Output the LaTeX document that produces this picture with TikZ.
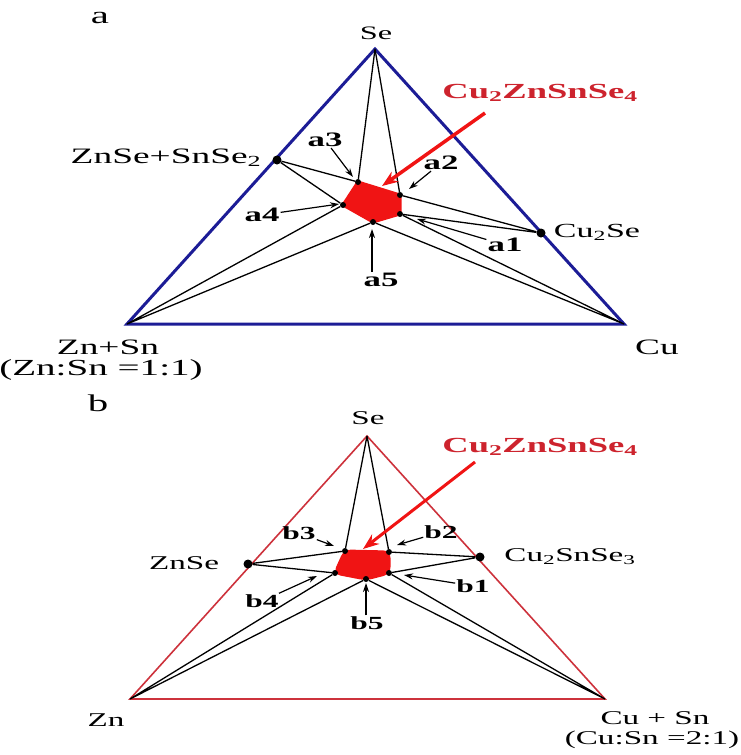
\documentclass[tikz,border=0pt]{standalone}
\usepackage{fontspec}
\setmainfont{Liberation Serif}[FakeStretch=1.7]
\definecolor{EdgeBlue}{RGB}{28,28,150}
\definecolor{EdgeRed}{RGB}{205,50,60}
\definecolor{PhaseRed}{RGB}{240,20,20}
\definecolor{LabelRed}{RGB}{205,35,45}
\usetikzlibrary{arrows.meta}
\tikzset{
    tie/.style={black,line width=1.3pt},
    bigdot/.style={circle,fill=black,inner sep=0pt,minimum size=9pt},
    smalldot/.style={circle,fill=black,inner sep=0pt,minimum size=6pt},
    lbl/.style={font=\fontsize{22}{25}\selectfont,inner sep=1pt},
    lblb/.style={font=\fontsize{19.5}{22}\selectfont,inner sep=1pt},
    tag/.style={font=\fontsize{20.5}{23}\selectfont\bfseries,inner sep=1pt},
    tagb/.style={font=\fontsize{18.5}{21}\selectfont\bfseries,inner sep=1pt},
    kest/.style={font=\fontsize{21.5}{24}\selectfont\bfseries,text=LabelRed,inner sep=1pt},
    ptr/.style={-{Stealth[length=9pt,width=6pt]},line width=1.2pt},
    redptr/.style={-{Stealth[length=16pt,width=12pt]},PhaseRed,line width=3.5pt},
    phase/.style={fill=PhaseRed,draw=PhaseRed,line width=3pt,line join=round}
}

\begin{document}
\begin{tikzpicture}[x=1pt,y=-1pt]
    \useasboundingbox (0,0) rectangle (741,755);

    % panel a
    \coordinate (SeA) at (375,49);
    \coordinate (ZnA) at (127,324);
    \coordinate (CuA) at (624,324);
    \draw[EdgeBlue,line width=3pt] (SeA) -- (ZnA) -- (CuA) -- cycle;
    \fill[phase] (400,195) -- (358,182) -- (343,205) -- (373,222) -- (400,214) -- cycle;
    \node[bigdot] (ZSA) at (277,160) {};
    \node[bigdot] (CSA) at (541,233) {};
    \node[smalldot] (pa1) at (400,214) {};
    \node[smalldot] (pa2) at (400,195) {};
    \node[smalldot] (pa3) at (358,182) {};
    \node[smalldot] (pa4) at (343,205) {};
    \node[smalldot] (pa5) at (373,222) {};
    \draw[tie] (SeA) -- (pa3) (SeA) -- (pa2);
    \draw[tie] (ZSA) -- (pa3) (ZSA) -- (pa4);
    \draw[tie] (CSA) -- (pa2) (CSA) -- (pa1);
    \draw[tie] (ZnA) -- (pa4) (ZnA) -- (pa5);
    \draw[tie] (CuA) -- (pa1) (CuA) -- (pa5);

    \node[lbl,font=\fontsize{24}{27}\selectfont] (capA) at (100,18) {a};
    \node[lbl,font=\fontsize{19}{22}\selectfont] (seAlab) at (376,33) {Se};
    \node[lbl] (zsAlab) at (166,158) {ZnSe+SnSe\textsubscript{2}};
    \node[lbl,font=\fontsize{20}{23}\selectfont] (csAlab) at (597,232) {Cu\textsubscript{2}Se};
    \node[lbl] (znAlab) at (108,347) {Zn+Sn};
    \node[lbl,font=\fontsize{23}{26}\selectfont] (ratioA) at (101,370) {(Zn:Sn =1:1)};
    \node[lbl] (cuAlab) at (657,347) {Cu};

    \node[tag] (a1lab) at (505,245) {a1};
    \node[tag] (a2lab) at (441,163) {a2};
    \node[tag] (a3lab) at (325,140) {a3};
    \node[tag] (a4lab) at (262,215) {a4};
    \node[tag] (a5lab) at (381,280) {a5};
    \coordinate (a1tip) at (417,219);
    \coordinate (a2tip) at (409,189);
    \coordinate (a3tip) at (353,177);
    \coordinate (a4tip) at (339,204);
    \coordinate (a5tip) at (372,229);
    \draw[ptr] (a1lab) -- (a1tip);
    \draw[ptr] (a2lab) -- (a2tip);
    \draw[ptr] (a3lab) -- (a3tip);
    \draw[ptr] (a4lab) -- (a4tip);
    \draw[ptr] (a5lab.north -| a5tip) -- (a5tip);

    \node[kest] (kestA) at (540,93) {Cu\textsubscript{2}ZnSnSe\textsubscript{4}};
    \coordinate (kestAfoot) at (485,113);
    \coordinate (kestAtip) at (382,186);
    \draw[redptr] (kestAfoot) -- (kestAtip);

    % panel b
    \coordinate (SeB) at (367,436);
    \coordinate (ZnB) at (130,699);
    \coordinate (CuB) at (605,699);
    \draw[EdgeRed,line width=1.6pt] (SeB) -- (ZnB) -- (CuB) -- cycle;
    \fill[phase,rounded corners=6pt] (389,552) -- (345,551) -- (335,573) -- (366,579) -- (389,573) -- cycle;
    \node[bigdot] (ZSB) at (248,564) {};
    \node[bigdot] (CSB) at (480,557) {};
    \node[smalldot] (pb1) at (389,573) {};
    \node[smalldot] (pb2) at (389,552) {};
    \node[smalldot] (pb3) at (345,551) {};
    \node[smalldot] (pb4) at (335,573) {};
    \node[smalldot] (pb5) at (366,579) {};
    \draw[tie] (SeB) -- (pb3) (SeB) -- (pb2);
    \draw[tie] (ZSB) -- (pb3) (ZSB) -- (pb4);
    \draw[tie] (CSB) -- (pb2) (CSB) -- (pb1);
    \draw[tie] (ZnB) -- (pb4) (ZnB) -- (pb5);
    \draw[tie] (CuB) -- (pb1) (CuB) -- (pb5);

    \node[lbl,font=\fontsize{24}{27}\selectfont] (capB) at (98,403) {b};
    \node[lblb] (seBlab) at (368,418) {Se};
    \node[lblb] (zsBlab) at (184,563) {ZnSe};
    \node[lblb] (csBlab) at (570,557) {Cu\textsubscript{2}SnSe\textsubscript{3}};
    \node[lblb] (znBlab) at (106,720) {Zn};
    \node[lblb] (cuBlab) at (655,718) {Cu + Sn};
    \node[lblb] (ratioB) at (652,740) {(Cu:Sn =2:1)};

    \node[tagb] (b1lab) at (473,586) {b1};
    \node[tagb] (b2lab) at (441,532) {b2};
    \node[tagb] (b3lab) at (299,533) {b3};
    \node[tagb] (b4lab) at (262,601) {b4};
    \node[tagb] (b5lab) at (367,623) {b5};
    \coordinate (b1tip) at (404,575);
    \coordinate (b2tip) at (397,545);
    \coordinate (b3tip) at (334,546);
    \coordinate (b4tip) at (317,576);
    \coordinate (b5tip) at (366,583);
    \draw[ptr] (b1lab) -- (b1tip);
    \draw[ptr] (b2lab) -- (b2tip);
    \draw[ptr] (b3lab) -- (b3tip);
    \draw[ptr] (b4lab) -- (b4tip);
    \draw[ptr] (b5lab.north -| b5tip) -- (b5tip);

    \node[kest] (kestB) at (540,447) {Cu\textsubscript{2}ZnSnSe\textsubscript{4}};
    \coordinate (kestBfoot) at (475,462);
    \coordinate (kestBtip) at (363,549);
    \draw[redptr,line width=3pt] (kestBfoot) -- (kestBtip);
\end{tikzpicture}
\end{document}
